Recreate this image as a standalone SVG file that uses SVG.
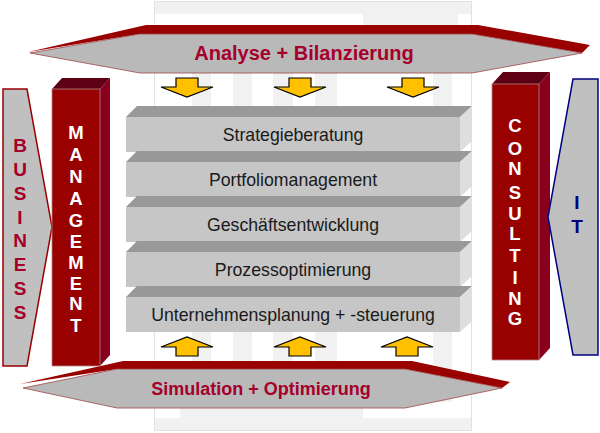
<svg xmlns="http://www.w3.org/2000/svg" width="600" height="433" viewBox="0 0 600 433">
<style>
.bg{fill:#f1f1f1}
.banner-top{fill:#990000}
.banner-face{fill:#b9b9b9;stroke:#a04848;stroke-width:0.8}
.banner-txt{font-family:"Liberation Sans",Arial,sans-serif;font-weight:bold;font-size:20px;fill:#a5002b;text-anchor:middle}
.slab-top{fill:#999999}
.slab-front{fill:#c6c6c6}
.slab-side{fill:#dedede}
.slab-txt{font-family:"Liberation Sans",Arial,sans-serif;font-size:17.7px;fill:#1a1a1a;text-anchor:middle}
.box-front{fill:#990000;stroke:#b08888;stroke-width:0.8}
.box-top{fill:#5e0014}
.box-side{fill:#88001e}
.vert-w{font-family:"Liberation Sans",Arial,sans-serif;font-weight:bold;font-size:18.5px;fill:#ffffff;text-anchor:middle}
.vert-r{font-family:"Liberation Sans",Arial,sans-serif;font-weight:bold;font-size:19px;fill:#a5002b;text-anchor:middle}
.vert-b{font-family:"Liberation Sans",Arial,sans-serif;font-weight:bold;font-size:19px;fill:#000080;text-anchor:middle}
.side-arrow{fill:#c0c0c0;stroke-width:1.5}
.yarrow{fill:#ffc000;stroke:#000000;stroke-width:1.2;stroke-linejoin:miter}
</style>
<defs>
<polygon id="downArrow" class="yarrow" points="-11,0 11,0 11,9 26,9 0,19 -26,9 -11,9"/>
<polygon id="upArrow" class="yarrow" points="-11,19 11,19 11,10 26,10 0,0 -26,10 -11,10"/>
</defs>

<!-- faint background panel -->
<g id="background">
<rect x="154.5" y="1.5" width="317" height="429" fill="#ffffff" stroke="#e2e2e2" stroke-width="1"/>
<rect class="bg" x="155" y="2" width="316" height="12"/>
<rect class="bg" x="155" y="418" width="316" height="12"/>
<rect class="bg" x="192" y="30" width="19" height="372"/>
<rect class="bg" x="233" y="30" width="19" height="372"/>
<rect class="bg" x="273" y="30" width="20" height="372"/>
<rect class="bg" x="315" y="30" width="22" height="372"/>
<rect class="bg" x="433" y="30" width="19" height="372"/>
<rect class="bg" x="363" y="14" width="95" height="12"/>
<rect class="bg" x="180" y="408" width="183" height="10"/>
</g>

<!-- Top banner -->
<g id="analyse">
<polygon class="banner-top" points="28,52 146,25 478,25 590,45 582,53 472,34 140,34"/>
<polygon class="banner-face" points="30,53 140,34 472,34 582,53 472,73 140,73"/>
<text class="banner-txt" x="304" y="60">Analyse + Bilanzierung</text>
</g>

<!-- Bottom banner -->
<g id="simulation">
<polygon class="banner-top" points="20,384 123,361 412,361 510,382 502,388 405,369 117,369"/>
<polygon class="banner-face" points="23,388 117,369 405,369 502,388 405,408 117,408"/>
<text class="banner-txt" style="font-size:18px" x="261" y="395">Simulation + Optimierung</text>
</g>

<!-- Layers -->
<g id="strategieberatung">
<polygon class="slab-top" points="126,117 137,106 472,106 460,117"/>
<polygon class="slab-side" points="460,117 472,106 472,141 460,152"/>
<rect class="slab-front" x="126" y="117" width="334" height="35"/>
<text class="slab-txt" x="293" y="141">Strategieberatung</text>
</g>
<g id="portfoliomanagement">
<polygon class="slab-top" points="126,162 137,151 472,151 460,162"/>
<polygon class="slab-side" points="460,162 472,151 472,186 460,197"/>
<rect class="slab-front" x="126" y="162" width="334" height="35"/>
<text class="slab-txt" x="293" y="186">Portfoliomanagement</text>
</g>
<g id="geschaeftsentwicklung">
<polygon class="slab-top" points="126,207 137,196 472,196 460,207"/>
<polygon class="slab-side" points="460,207 472,196 472,231 460,242"/>
<rect class="slab-front" x="126" y="207" width="334" height="35"/>
<text class="slab-txt" x="293" y="231">Geschäftsentwicklung</text>
</g>
<g id="prozessoptimierung">
<polygon class="slab-top" points="126,252 137,241 472,241 460,252"/>
<polygon class="slab-side" points="460,252 472,241 472,276 460,287"/>
<rect class="slab-front" x="126" y="252" width="334" height="35"/>
<text class="slab-txt" x="293" y="276">Prozessoptimierung</text>
</g>
<g id="unternehmensplanung">
<polygon class="slab-top" points="126,297 137,286 472,286 460,297"/>
<polygon class="slab-side" points="460,297 472,286 472,321 460,332"/>
<rect class="slab-front" x="126" y="297" width="334" height="35"/>
<text class="slab-txt" x="293" y="321">Unternehmensplanung + -steuerung</text>
</g>

<!-- BUSINESS arrow -->
<g id="business">
<polygon class="side-arrow" stroke="#990000" points="3,89 27,89 52,227 27,366 3,366"/>
<text class="vert-r" x="20" y="152">B</text>
<text class="vert-r" x="20" y="176">U</text>
<text class="vert-r" x="20" y="200">S</text>
<text class="vert-r" x="20" y="224">I</text>
<text class="vert-r" x="20" y="247">N</text>
<text class="vert-r" x="20" y="271">E</text>
<text class="vert-r" x="20" y="295">S</text>
<text class="vert-r" x="20" y="319">S</text>
</g>

<!-- MANAGEMENT box -->
<g id="management">
<polygon class="box-top" points="52,89 62,78 110,78 100,89"/>
<polygon class="box-side" points="100,89 110,78 110,355 100,366"/>
<rect class="box-front" x="52" y="89" width="48" height="277"/>
<text class="vert-w" x="76" y="139">M</text>
<text class="vert-w" x="76" y="161">A</text>
<text class="vert-w" x="76" y="183">N</text>
<text class="vert-w" x="76" y="205">A</text>
<text class="vert-w" x="76" y="227">G</text>
<text class="vert-w" x="76" y="248">E</text>
<text class="vert-w" x="76" y="269">M</text>
<text class="vert-w" x="76" y="290">E</text>
<text class="vert-w" x="76" y="310">N</text>
<text class="vert-w" x="76" y="332">T</text>
</g>

<!-- CONSULTING box -->
<g id="consulting">
<polygon class="box-top" points="492,84 503,72 550,72 539,84"/>
<polygon class="box-side" points="539,84 550,72 550,348 539,360"/>
<rect class="box-front" x="492" y="84" width="47" height="276"/>
<text class="vert-w" x="515" y="132">C</text>
<text class="vert-w" x="515" y="155">O</text>
<text class="vert-w" x="515" y="175">N</text>
<text class="vert-w" x="515" y="199">S</text>
<text class="vert-w" x="515" y="220">U</text>
<text class="vert-w" x="515" y="240">L</text>
<text class="vert-w" x="515" y="262">T</text>
<text class="vert-w" x="515" y="284">I</text>
<text class="vert-w" x="515" y="305">N</text>
<text class="vert-w" x="515" y="325">G</text>
</g>

<!-- IT arrow -->
<g id="it">
<polygon class="side-arrow" stroke="#000080" points="573,79 598,79 598,355 573,355 548,217"/>
<text class="vert-b" x="577" y="209">I</text>
<text class="vert-b" x="577" y="233">T</text>
</g>

<!-- connectors: yellow arrows -->
<g id="connectors">
<use href="#downArrow" x="187" y="78"/>
<use href="#downArrow" x="300" y="78"/>
<use href="#downArrow" x="413" y="78"/>
<use href="#upArrow" x="187" y="337"/>
<use href="#upArrow" x="300" y="337"/>
<use href="#upArrow" x="407" y="337"/>
</g>
</svg>
